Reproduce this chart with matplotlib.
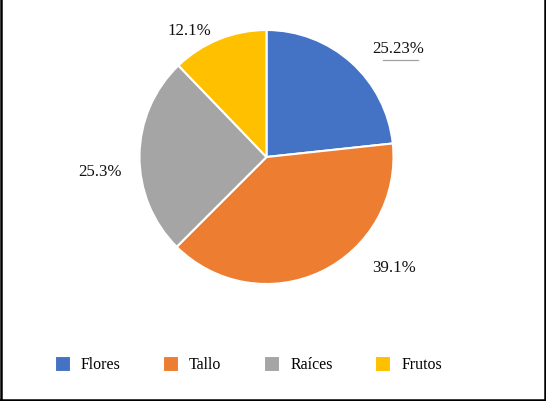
import numpy as np
import matplotlib.pyplot as plt
from matplotlib.lines import Line2D

# Datos del gráfico
categorias = ["Flores", "Tallo", "Raíces", "Frutos"]
valores = [23.3, 39.2, 25.3, 12.2]          # tamaño de las porciones
etiquetas = ["25.23%", "39.1%", "25.3%", "12.1%"]  # texto tal como aparece
colores = ["#4472C4", "#ED7D31", "#A5A5A5", "#FFC000"]

# posiciones de las etiquetas (en radios, respecto al centro)
pos_etiquetas = [(1.035, 0.85), (1.005, -0.874), (-1.31, -0.116), (-0.61, 0.99)]

plt.rcParams['font.family'] = ['Liberation Serif', 'DejaVu Serif']

W, H = 546, 401
fig = plt.figure(figsize=(W / 100, H / 100), dpi=100)

# ejes colocados para que el centro quede en (266.5, 157) px con radio 127 px
R = 127
cx, cy = 266.5, 157
xl, yl = 1.6, 1.2
ax = fig.add_axes([(cx - xl * R) / W, (H - cy - yl * R) / H, 2 * xl * R / W, 2 * yl * R / H])

wedges, _ = ax.pie(valores, colors=colores, startangle=90, counterclock=False,
                   wedgeprops=dict(edgecolor="white", linewidth=1.5))
ax.set_xlim(-xl, xl)
ax.set_ylim(-yl, yl)
ax.set_aspect('equal', adjustable='box')
ax.axis('off')

for txt, (x, y) in zip(etiquetas, pos_etiquetas):
    ax.text(x, y, txt, ha="center", va="center", fontsize=12.2, color="#111111")

# línea guía bajo la etiqueta de Flores
ax.plot([0.917, 1.193], [0.764, 0.764], color="#A0A0A0", lw=0.9)

fig.legend(wedges, categorias, loc="center", bbox_to_anchor=(0.455, 0.09), ncol=4,
           frameon=False, fontsize=11.4, handlelength=1.0, handleheight=1.12,
           handletextpad=0.63, columnspacing=2.7)

# marco de la figura
for xs, ys in [([0.002, 0.002], [0, 1]), ([0.998, 0.998], [0, 1]), ([0, 1], [0.003, 0.003])]:
    fig.add_artist(Line2D(xs, ys, color="black", lw=1.8, transform=fig.transFigure))

fig.savefig("out.png", dpi=100)
